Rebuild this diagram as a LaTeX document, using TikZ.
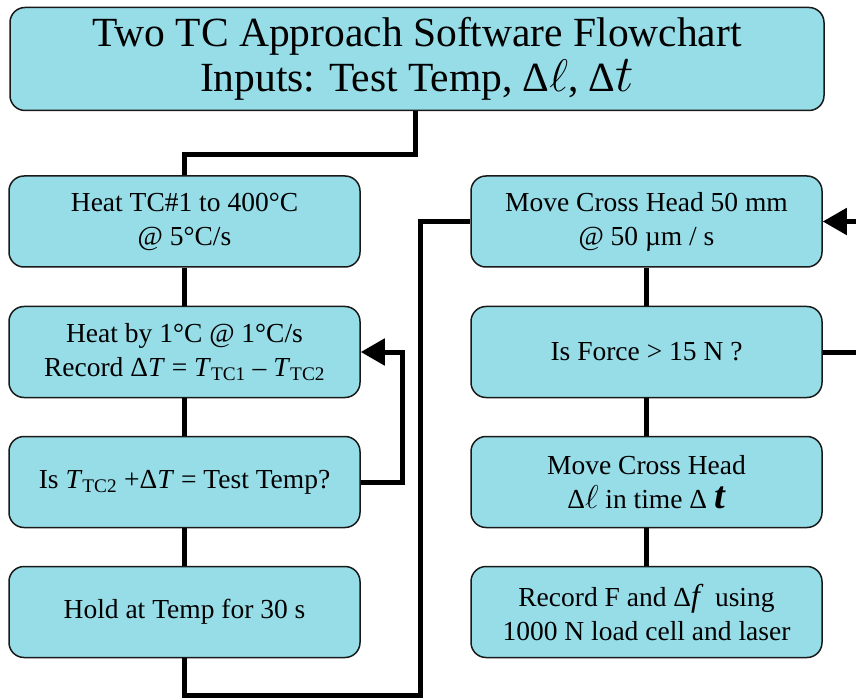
\documentclass[tikz,border=0pt]{standalone}
\usepackage{fix-cm}
\usepackage{fontspec}
\setmainfont{Liberation Serif}
\usetikzlibrary{arrows.meta}
\definecolor{boxfill}{RGB}{151,221,232}
\definecolor{boxline}{RGB}{25,25,25}
\newcommand{\sbs}[1]{\textsubscript{#1}}
\newcommand{\grow}[2]{\scalebox{#1}{#2}}
\begin{document}
\begin{tikzpicture}[x=1pt,y=-1pt,
  stepbox/.style={draw=boxline,line width=1.5pt,fill=boxfill,rounded corners=15pt,
    minimum width=351pt,minimum height=91pt,align=center,inner sep=0pt,
    font=\fontsize{27.5}{34}\selectfont},
  titlebox/.style={stepbox,minimum width=814pt,minimum height=103pt,
    font=\fontsize{41.5}{45}\selectfont},
  link/.style={line width=5pt,line join=miter},
  loopback/.style={link,-{Triangle[length=24pt,width=26pt]}}]
\useasboundingbox (0,0) rectangle (856,700);

% header
\node[titlebox] (title) at (417,59) {Two TC Approach Software Flowchart\\Inputs: Test Temp, Δ\grow{1.1}{$\ell$}, Δ\grow{1.25}{$t$}};

% heating column
\node[stepbox] (L1) at (184.5,221.5) {Heat TC\#1 to 400°C\\@ 5°C/s};
\node[stepbox] (L2) at (184.5,352) {Heat by 1°C @ 1°C/s\\Record Δ\textit{T} = \textit{T}\sbs{TC1} – \textit{T}\sbs{TC2}};
\node[stepbox] (L3) at (184.5,482) {Is \textit{T}\sbs{TC2} +Δ\textit{T} = Test Temp?};
\node[stepbox] (L4) at (184.5,612) {Hold at Temp for 30 s};

% loading column
\node[stepbox] (R1) at (646.5,221.5) {Move Cross Head 50 mm\\@ 50 µm / s};
\node[stepbox] (R2) at (646.5,352) {Is Force > 15 N ?};
\node[stepbox] (R3) at (646.5,482) {Move Cross Head\\Δ\grow{1.2}{$\ell$} in time Δ \grow{1.4}{\textbf{\textit{t}}}};
\node[stepbox] (R4) at (646.5,612) {Record F and Δ\grow{1.15}{\textit{f}}\, using\\1000 N load cell and laser};

% connectors
\draw[link] ([xshift=-2pt]title.south) -- ++(0,43) -| (L1.north);
\draw[link] (L1) -- (L2);
\draw[link] (L2) -- (L3);
\draw[link] (L3) -- (L4);
\draw[link] (R1) -- (R2);
\draw[link] (R2) -- (R3);
\draw[link] (R3) -- (R4);
\draw[loopback] (L3.east) -- ++(42,0) |- (L2.east);
\coordinate (bottomturn) at (420,695);
\draw[link] (L4.south) |- (bottomturn) |- (R1.west);
\draw[loopback] (R2.east) -- ++(40,0) |- (R1.east);
\end{tikzpicture}
\end{document}
